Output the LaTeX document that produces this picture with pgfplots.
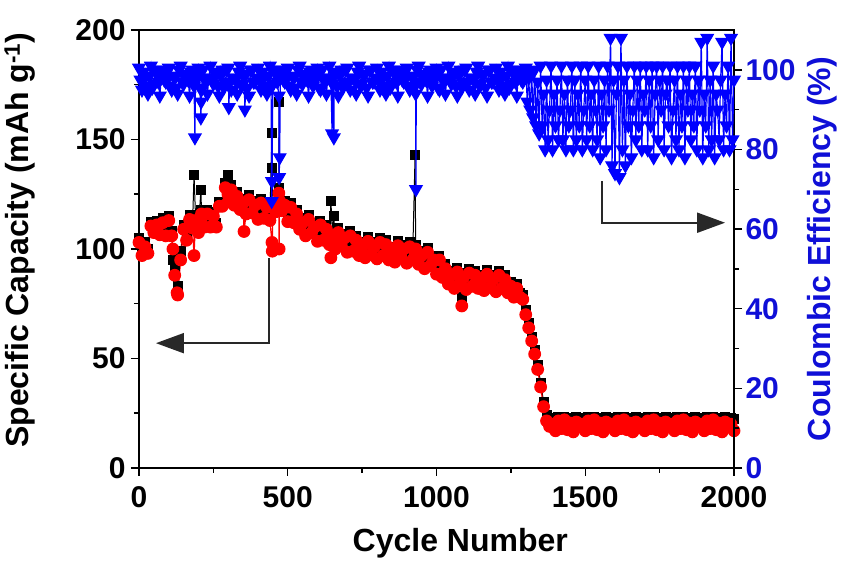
\documentclass[border=0pt]{standalone}
\usepackage{fontspec}
\setmainfont{Liberation Sans}
\usepackage{pgfplots}
\pgfplotsset{compat=1.18}
\usepackage{pgfplotstable}
\usetikzlibrary{arrows.meta}
\definecolor{ceblue}{RGB}{0,0,255}
\definecolor{cetext}{RGB}{15,15,215}
\definecolor{arrowgray}{RGB}{40,40,40}

% capacity: x = cycle, chg = black squares, dis = red circles
\pgfplotstableread{
x chg dis
0 105 103
10 99 97
20 103 101
30 100 98
40 112.5 110.5
50 109.5 107.5
60 113 111
70 108.5 106.5
80 114 112
90 108 106
100 115 113
110 108 106
114 95 100
120 92 88
128 98 80
130 83 79
140 99 95
150 111 109
160 106 104
170 115.5 113.5
180 111.5 109.5
185 134 97
190 115 113
200 109.5 107.5
208 127 112
210 118 116
220 112 110
230 118 116
240 112 110
250 117 115
260 112 110
270 121.5 119.5
280 121.5 119.5
290 130 128
299 134 125
300 123.5 121.5
310 129 127
320 122 120
330 126 124
340 120 118
350 123 121
353 123 108
360 118 116
370 124.5 122.5
380 118.5 116.5
390 122 120
400 115.5 113.5
410 123 121
420 116 114
430 121 119
440 115 113
447 153 103
448 137 99
450 121 119
460 119 117
470 127.5 125.5
471 167 100
472 128 122
480 119.5 117.5
490 122 120
500 114.5 112.5
510 121 119
520 114 112
530 118 116
540 111 109
550 114 112
560 108 106
570 115.5 113.5
580 109.5 107.5
590 112 110
600 105.5 103.5
610 113 111
620 106 104
630 111 109
640 104 102
645 122 96
650 108 106
655 115 104
660 102 100
670 109.5 107.5
680 103.5 101.5
690 107 105
700 100.5 98.5
710 108 106
720 101 99
730 106 104
740 99 97
750 103 101
760 98 96
770 105.5 103.5
780 99.5 97.5
790 103 101
800 97.5 95.5
810 105 103
820 99 97
830 104 102
840 97 95
850 101 99
860 96 94
870 103.5 101.5
880 98.5 96.5
890 102 100
900 95.5 93.5
910 103 101
920 97 95
928 143 98
930 102 100
940 95 93
950 99 97
960 93 91
970 100.5 98.5
980 94.5 92.5
990 97 95
1000 90.5 88.5
1010 97 95
1020 89 87
1030 93 91
1040 86 84
1050 90 88
1060 84 82
1070 91.5 89.5
1080 86.5 84.5
1085 78 74
1090 89 87
1100 83.5 81.5
1110 91 89
1120 85 83
1130 90 88
1140 84 82
1150 88 86
1160 83 81
1170 90.5 88.5
1180 84.5 82.5
1190 88 86
1200 82.5 80.5
1210 90 88
1220 84 82
1230 88 86
1240 82 80
1250 85 83
1260 80 78
1270 84 82
1280 80 78
1290 79 77
1300 72 70
1310 66 64
1320 60 58
1330 54 52
1340 47 45
1350 39 37
1360 30 28
1370 24 21.5
1380 23 19
1390 23 20
1400 22.5 17
1410 23.5 21.5
1420 23 18
1430 23.5 22
1440 22.5 17.5
1450 23 20.5
1460 22.5 16.5
1470 23.5 21
1480 23 19
1490 23 20
1500 22.5 17
1510 23.5 21.5
1520 23 18
1530 23.5 22
1540 22.5 17.5
1550 23 20.5
1560 22.5 16.5
1570 23.5 21
1580 23 19
1590 23 20
1600 22.5 17
1610 23.5 21.5
1620 23 18
1630 23.5 22
1640 22.5 17.5
1650 23 20.5
1660 22.5 16.5
1670 23.5 21
1680 23 19
1690 23 20
1700 22.5 17
1710 23.5 21.5
1720 23 18
1730 23.5 22
1740 22.5 17.5
1750 23 20.5
1760 22.5 16.5
1770 23.5 21
1780 23 19
1790 23 20
1800 22.5 17
1810 23.5 21.5
1820 23 18
1830 23.5 22
1840 22.5 17.5
1850 23 20.5
1860 22.5 16.5
1870 23.5 21
1880 23 19
1890 23 20
1900 22.5 17
1910 23.5 21.5
1920 23 18
1930 23.5 22
1940 22.5 17.5
1950 23 20.5
1960 22.5 16.5
1970 23.5 21
1980 23 19
1990 23 20
2000 22.5 17
}\captab

% coulombic efficiency
\pgfplotstableread{
x ce
0 100.5
5 97.5
10 95
15 99.5
20 98
25 96
30 94
35 98.5
40 101
45 95.5
50 96.5
55 100
60 99
65 97
70 93.5
75 98
80 100
85 97.5
90 97
95 99.5
100 100.5
105 96
110 95
115 98.5
120 98
125 95.5
130 94
135 100
140 101
145 97
150 96.5
155 98
160 99
165 97.5
170 93.5
175 99.5
180 100
185 96
188 83
190 97
195 98.5
200 100.5
205 95.5
208 88
209 92
210 95
215 100
220 98
225 97
230 94
235 98
240 101
245 97.5
250 96.5
255 99.5
260 99
265 96
270 93.5
275 98.5
280 100
285 95.5
290 97
295 100
300 100.5
302 90.6
305 97
310 95
315 98
320 98
325 97.5
330 94
335 99.5
340 101
345 96
350 96.5
353 98.5
356 90
360 99
365 95.5
370 93.5
375 100
380 100
385 97
390 97
395 98
400 100.5
405 97.5
410 95
415 99.5
420 98
425 96
430 94
435 98.5
440 101
444 95.5
446 67
447 72
450 96.5
455 100
460 99
465 97
470 93.5
471 73
473 78
475 98
480 100
485 97.5
490 97
495 99.5
500 100.5
505 96
510 95
515 98.5
520 98
525 95.5
530 94
535 100
540 101
545 97
550 96.5
555 98
560 99
565 97.5
570 93.5
575 99.5
580 100
585 96
590 97
595 98.5
600 100.5
605 95.5
610 95
615 100
620 98
625 97
630 94
635 98
640 101
645 97.5
649 84
650 96.5
655 83
656 99.5
660 99
665 96
670 93.5
675 98.5
680 100
685 95.5
690 97
695 100
700 100.5
705 97
710 95
715 98
720 98
725 97.5
730 94
735 99.5
740 101
745 96
750 96.5
755 98.5
760 99
765 95.5
770 93.5
775 100
780 100
785 97
790 97
795 98
800 100.5
805 97.5
810 95
815 99.5
820 98
825 96
830 94
835 98.5
840 101
845 95.5
850 96.5
855 100
860 99
865 97
870 93.5
875 98
880 100
885 97.5
890 97
895 99.5
900 100.5
905 96
910 95
915 98.5
920 98
925 95.5
930 94
931 70
932 97
935 100
940 101
945 97
950 96.5
955 98
960 99
965 97.5
970 93.5
975 99.5
980 100
985 96
990 97
995 98.5
1000 100.5
1005 95.5
1010 95
1015 100
1020 98
1025 97
1030 94
1035 98
1040 101
1045 97.5
1050 96.5
1055 99.5
1060 99
1065 96
1070 93.5
1075 98.5
1080 100
1085 95.5
1090 97
1095 100
1100 100.5
1105 97
1110 95
1115 98
1120 98
1125 97.5
1130 94
1135 99.5
1140 101
1145 96
1150 96.5
1155 98.5
1160 99
1165 95.5
1170 93.5
1175 100
1180 100
1185 97
1190 97
1195 98
1200 100.5
1205 97.5
1210 95
1215 99.5
1220 98
1225 96
1230 94
1235 98.5
1240 101
1245 95.5
1250 96.5
1255 100
1260 99
1265 97
1270 93.5
1275 98
1280 100
1285 97.5
1290 97
1295 99.5
1300 100.5
1305 92
1310 98
1315 90
1320 99
1325 88
1330 100
1335 86
1340 97
1345 84
1350 101
1355 86
1360 94
1365 80
1370 97.5
1375 82.5
1380 90
1385 101
1390 80
1395 94
1400 86
1405 97.5
1410 82.5
1415 90
1420 101
1425 82.5
1430 94
1435 80
1440 97.5
1445 86
1450 90
1455 101
1460 80
1465 97.5
1470 82.5
1475 94
1480 86
1485 101
1490 80
1495 90
1500 97.5
1505 82.5
1510 101
1515 86
1520 94
1525 80
1530 97.5
1535 90
1540 82.5
1545 101
1550 78
1555 94
1560 86
1565 97.5
1570 80
1575 101
1580 90
1585 108
1590 76
1595 97.5
1600 74
1605 94
1610 101
1615 73
1620 108
1625 80
1630 97.5
1635 76
1640 101
1645 86
1650 94
1655 78
1660 90
1665 101
1670 82.5
1675 97.5
1680 86
1685 101
1690 80
1695 94
1700 90
1705 101
1710 80
1715 97.5
1720 86
1725 101
1730 78
1735 94
1740 101
1745 82.5
1750 97.5
1755 90
1760 101
1765 80
1770 94
1775 97.5
1780 86
1785 101
1790 78
1795 90
1800 97.5
1805 82.5
1810 101
1815 80
1820 94
1825 86
1830 101
1835 78
1840 97.5
1845 90
1850 101
1855 82.5
1860 94
1865 86
1870 101
1875 80
1880 97.5
1885 90
1890 107
1895 78
1900 94
1905 86
1910 108
1915 80
1920 97.5
1925 82.5
1930 101
1935 78
1940 94
1945 90
1950 82.5
1955 97.5
1960 107
1965 80
1970 94
1975 86
1980 101
1985 80
1990 108
1995 82.5
2000 97.5
}\cetab

\pgfplotsset{
  every axis/.append style={
    scale only axis, width=595pt, height=438pt,
    xmin=0, xmax=2000,
    tick align=outside,
    axis line style={line width=2pt},
    major tick length=8pt, minor tick length=5pt,
    tick style={line width=1.5pt, black},
    tick label style={font=\fontsize{30}{36}\selectfont\bfseries},
    label style={font=\fontsize{32}{38}\selectfont\bfseries},
    /pgf/number format/assume math mode=true,
    /pgf/number format/1000 sep={},
  }
}

\begin{document}
\begin{tikzpicture}
\useasboundingbox (-139pt,-93pt) rectangle (705pt,468pt);
\begin{axis}[
  ymin=0, ymax=200, ytick={0,50,...,200}, minor y tick num=1,
  xtick={0,500,...,2000}, minor x tick num=1,
  xtick pos=bottom, ytick pos=left,
  xticklabel style={yshift=-7pt},
  yticklabel style={xshift=-2pt},
  xlabel={Cycle Number},
  ylabel={Specific Capacity (mAh g\textsuperscript{-1})},
  xlabel style={at={(axis description cs:0.54,-0.171)}, anchor=center},
  ylabel style={at={(axis description cs:-0.2,0.52)}, anchor=center},
]
\addplot[black, line width=1pt, mark=square*, mark size=4.5pt] table[x=x, y=chg]{\captab};
\addplot[red, line width=1.2pt, mark=*, mark size=5.8pt] table[x=x, y=dis]{\captab};
\draw[arrowgray, line width=2pt, -{Triangle[length=28pt, width=20pt]}]
  (axis cs:437,96) -- (axis cs:437,57) -- (axis cs:57,57);
\draw[arrowgray, line width=2pt, -{Triangle[length=28pt, width=20pt]}]
  (axis cs:1556,131) -- (axis cs:1556,112) -- (axis cs:1970,112);
\end{axis}
\begin{axis}[
  axis y line*=right, axis x line=none,
  ymin=0, ymax=110, ytick={0,20,...,100}, minor y tick num=1,
  ylabel={Coulombic Efficiency (\%)},
  yticklabel style={text=cetext},
  ylabel style={text=cetext, at={(axis description cs:1.148,0.5)}, anchor=center},
]
\addplot[ceblue, line width=1.2pt, mark=triangle*, mark size=7pt, mark options={rotate=180}] table[x=x, y=ce]{\cetab};
\end{axis}
\end{tikzpicture}
\end{document}
